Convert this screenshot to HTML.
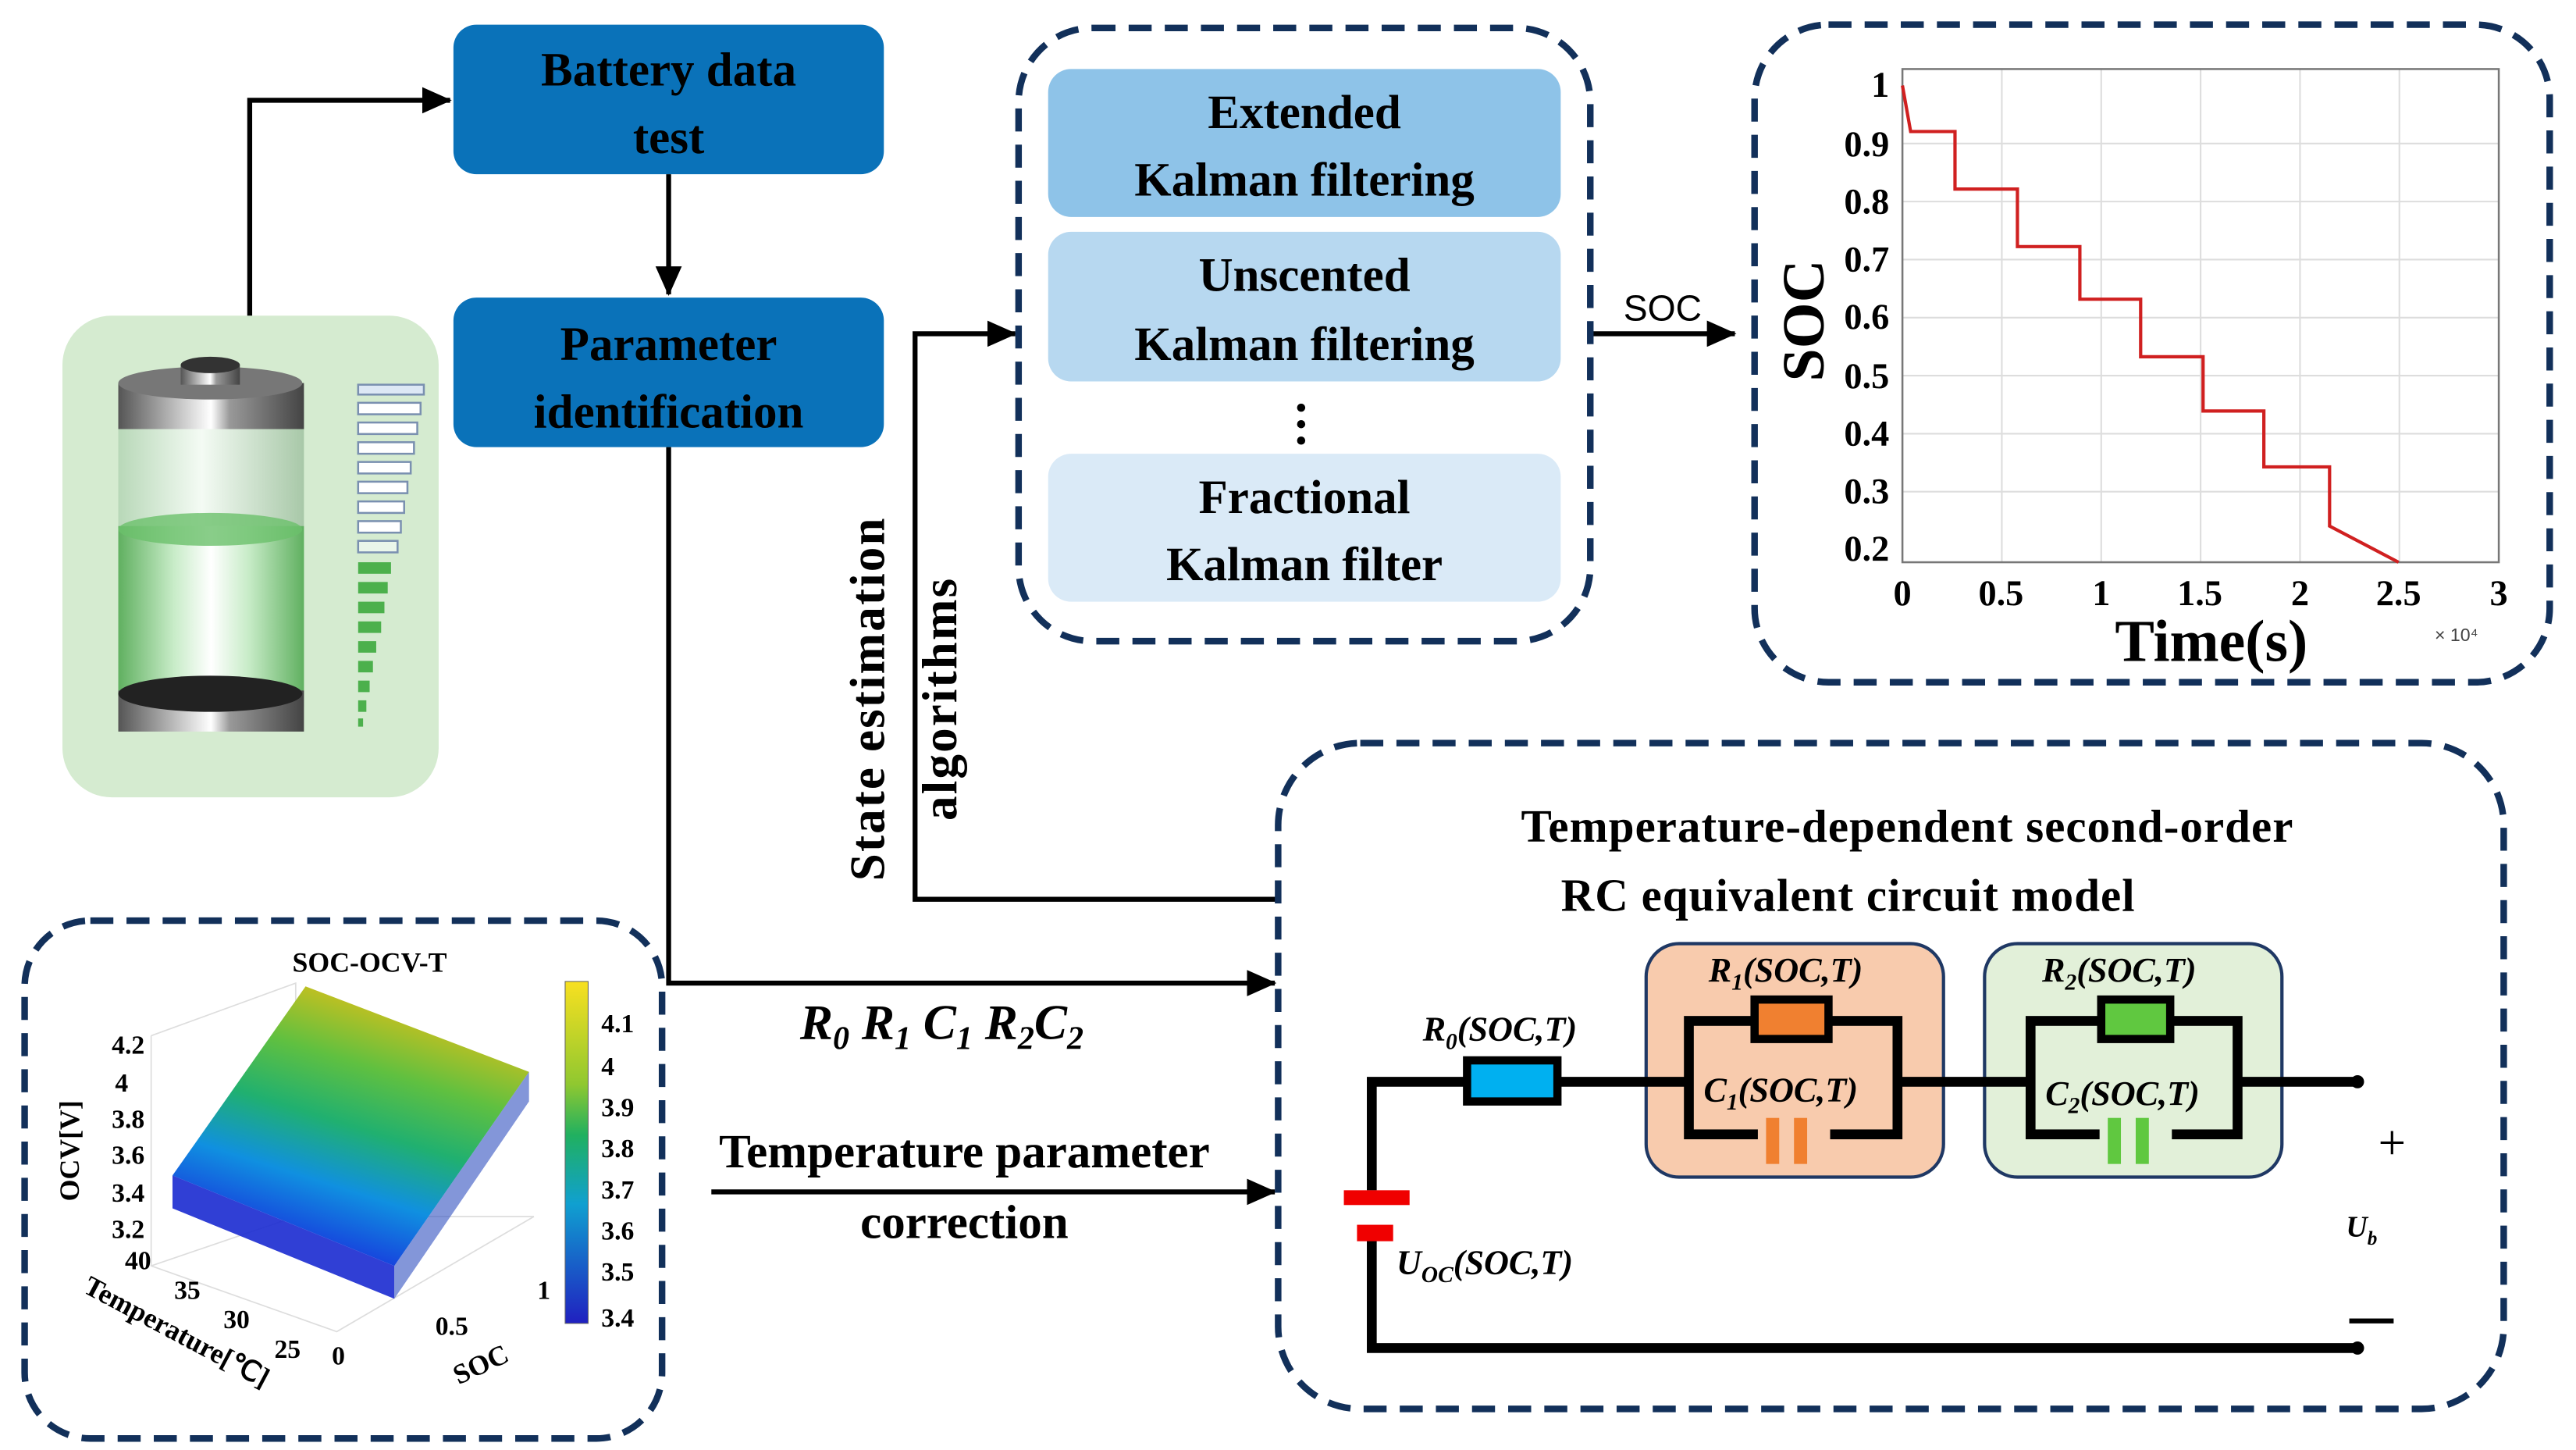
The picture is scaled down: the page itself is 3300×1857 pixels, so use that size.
<!DOCTYPE html>
<html><head><meta charset="utf-8"><style>
html,body{margin:0;padding:0;background:#fff;}
svg{display:block;}
.t{font-family:"Liberation Serif",serif;font-weight:bold;}
.i{font-family:"Liberation Serif",serif;font-weight:bold;font-style:italic;}
</style></head><body>
<svg width="3300" height="1857" viewBox="0 0 1568 882" preserveAspectRatio="none" xmlns="http://www.w3.org/2000/svg">
<defs>
<marker id="ah2" markerWidth="18" markerHeight="16" refX="17" refY="8" orient="auto" markerUnits="userSpaceOnUse" viewBox="0 0 18 16"><path d="M0,0 L18,8 L0,16 z" fill="#000"/></marker>
<linearGradient id="surf" x1="0.3" y1="1" x2="0.7" y2="0"><stop offset="0" stop-color="#1a1adc"/><stop offset="0.3" stop-color="#1090e0"/><stop offset="0.5" stop-color="#20b070"/><stop offset="0.7" stop-color="#60c040"/><stop offset="1" stop-color="#f5c010"/></linearGradient>
<linearGradient id="cb" x1="0" y1="0" x2="0" y2="1"><stop offset="0" stop-color="#f8e020"/><stop offset="0.3" stop-color="#90c830"/><stop offset="0.45" stop-color="#20b060"/><stop offset="0.65" stop-color="#10a0d0"/><stop offset="1" stop-color="#2020c0"/></linearGradient>
<linearGradient id="metal" x1="0" y1="0" x2="1" y2="0"><stop offset="0" stop-color="#555"/><stop offset="0.4" stop-color="#ddd"/><stop offset="0.5" stop-color="#fff"/><stop offset="0.6" stop-color="#999"/><stop offset="1" stop-color="#444"/></linearGradient>
<linearGradient id="glass" x1="0" y1="0" x2="1" y2="0"><stop offset="0" stop-color="#b8d8b8"/><stop offset="0.45" stop-color="#f4fbf4"/><stop offset="1" stop-color="#a8c8a8"/></linearGradient>
<linearGradient id="gfill" x1="0" y1="0" x2="1" y2="0"><stop offset="0" stop-color="#60b060"/><stop offset="0.3" stop-color="#c8ecc8"/><stop offset="0.5" stop-color="#fff"/><stop offset="0.7" stop-color="#c8ecc8"/><stop offset="1" stop-color="#60b060"/></linearGradient>
</defs>

<rect x="38" y="192" width="229" height="293" rx="30" fill="#d5ebd0"/>
<rect x="72" y="240" width="113" height="190" fill="url(#glass)"/>
<rect x="72" y="320" width="113" height="100" fill="url(#gfill)"/>
<ellipse cx="128" cy="322" rx="56" ry="10" fill="#6cc06c" opacity="0.8"/>
<rect x="72" y="233" width="113" height="28" fill="url(#metal)"/>
<ellipse cx="128" cy="233" rx="56" ry="10" fill="#777"/>
<rect x="110" y="222" width="36" height="12" fill="url(#metal)"/>
<ellipse cx="128" cy="222" rx="18" ry="5" fill="#333"/>
<rect x="72" y="420" width="113" height="25" fill="url(#metal)"/>
<ellipse cx="128" cy="422" rx="56" ry="11" fill="#222"/>
<g stroke="#7a90b0" stroke-width="1.2">
<rect x="218" y="234" width="40" height="6" fill="#dde8f5"/>
<rect x="218" y="245" width="38" height="7" fill="#fff"/>
<rect x="218" y="257" width="36" height="7" fill="#fff"/>
<rect x="218" y="269" width="34" height="7" fill="#fff"/>
<rect x="218" y="281" width="32" height="7" fill="#fff"/>
<rect x="218" y="293" width="30" height="7" fill="#fff"/>
<rect x="218" y="305" width="28" height="7" fill="#fff"/>
<rect x="218" y="317" width="26" height="7" fill="#fff"/>
<rect x="218" y="329" width="24" height="7" fill="#eaf6ea"/>
</g>
<g fill="#4cb04c">
<rect x="218" y="342" width="20" height="7"/><rect x="218" y="354" width="18" height="7"/><rect x="218" y="366" width="16" height="7"/><rect x="218" y="378" width="14" height="7"/><rect x="218" y="390" width="11" height="7"/><rect x="218" y="402" width="9" height="7"/><rect x="218" y="414" width="7" height="7"/><rect x="218" y="426" width="5" height="7"/><rect x="218" y="437" width="3" height="5"/>
</g>

<rect x="276" y="15" width="262" height="91" rx="14" fill="#0a72b9"/>
<text class="t" x="407" y="52" font-size="29" text-anchor="middle">Battery data</text>
<text class="t" x="407" y="93" font-size="29" text-anchor="middle">test</text>
<rect x="276" y="181" width="262" height="91" rx="14" fill="#0a72b9"/>
<text class="t" x="407" y="219" font-size="29" text-anchor="middle">Parameter</text>
<text class="t" x="407" y="260" font-size="29" text-anchor="middle">identification</text>

<g stroke="#000" stroke-width="3" fill="none">
<path d="M152,192 V61 H274" marker-end="url(#ah2)"/>
<path d="M407,106 V179" marker-end="url(#ah2)"/>
<path d="M407,272 V598 H776" marker-end="url(#ah2)"/>
<path d="M778,547 H557 V203 H618" marker-end="url(#ah2)"/>
<path d="M433,725 H776" marker-end="url(#ah2)"/>
<path d="M968,203 H1056" marker-end="url(#ah2)"/>
</g>

<text class="i" x="487" y="632" font-size="30">R<tspan font-size="20" dy="6">0</tspan><tspan dy="-6"> R</tspan><tspan font-size="20" dy="6">1</tspan><tspan dy="-6"> C</tspan><tspan font-size="20" dy="6">1</tspan><tspan dy="-6"> R</tspan><tspan font-size="20" dy="6">2</tspan><tspan dy="-6">C</tspan><tspan font-size="20" dy="6">2</tspan></text>
<text class="t" x="587" y="710" font-size="29" text-anchor="middle">Temperature parameter</text>
<text class="t" x="587" y="753" font-size="29" text-anchor="middle">correction</text>
<text class="t" transform="translate(538,425) rotate(-90)" font-size="30" text-anchor="middle" letter-spacing="1">State estimation</text>
<text class="t" transform="translate(582,425) rotate(-90)" font-size="30" text-anchor="middle" letter-spacing="1">algorithms</text>
<text x="1012" y="195" font-family="Liberation Sans,sans-serif" font-size="22" text-anchor="middle">SOC</text>

<rect x="620" y="17" width="348" height="373" rx="45" fill="none" stroke="#12305a" stroke-width="4" stroke-dasharray="14,8"/>
<rect x="638" y="42" width="312" height="90" rx="14" fill="#8ec3e8"/>
<rect x="638" y="141" width="312" height="91" rx="14" fill="#b7d8f0"/>
<rect x="638" y="276" width="312" height="90" rx="14" fill="#daeaf7"/>
<text class="t" x="794" y="78" font-size="29" text-anchor="middle">Extended</text>
<text class="t" x="794" y="119" font-size="29" text-anchor="middle">Kalman filtering</text>
<text class="t" x="794" y="177" font-size="29" text-anchor="middle">Unscented</text>
<text class="t" x="794" y="219" font-size="29" text-anchor="middle">Kalman filtering</text>
<text class="t" x="794" y="312" font-size="29" text-anchor="middle">Fractional</text>
<text class="t" x="794" y="353" font-size="29" text-anchor="middle">Kalman filter</text>
<circle cx="792" cy="248" r="2.5"/><circle cx="792" cy="258" r="2.5"/><circle cx="792" cy="268" r="2.5"/>

<rect x="1068" y="15" width="484" height="400" rx="45" fill="none" stroke="#12305a" stroke-width="4" stroke-dasharray="14,8"/>
<g stroke="#ddd" stroke-width="1">
<path d="M1218.5,42 V342 M1279,42 V342 M1339.5,42 V342 M1400,42 V342 M1460.5,42 V342"/>
<path d="M1158,87.3 H1521 M1158,122.6 H1521 M1158,157.9 H1521 M1158,193.2 H1521 M1158,228.5 H1521 M1158,263.8 H1521 M1158,299.1 H1521"/>
</g>
<rect x="1158" y="42" width="363" height="300" fill="none" stroke="#777" stroke-width="1.2"/>
<path d="M1158,52 L1163,80 H1190 V115 H1228 V150 H1266 V182 H1303 V217 H1341 V250 H1378 V284 H1418 V320 L1460,342" fill="none" stroke="#d02020" stroke-width="2"/>
<g class="t" font-size="22" text-anchor="end">
<text x="1150" y="59">1</text><text x="1150" y="95">0.9</text><text x="1150" y="130">0.8</text><text x="1150" y="165">0.7</text><text x="1150" y="200">0.6</text><text x="1150" y="236">0.5</text><text x="1150" y="271">0.4</text><text x="1150" y="306">0.3</text><text x="1150" y="341">0.2</text>
</g>
<g class="t" font-size="22" text-anchor="middle">
<text x="1158" y="368">0</text><text x="1218" y="368">0.5</text><text x="1279" y="368">1</text><text x="1339" y="368">1.5</text><text x="1400" y="368">2</text><text x="1460" y="368">2.5</text><text x="1521" y="368">3</text>
</g>
<text class="t" transform="translate(1110,195) rotate(-90)" font-size="36" text-anchor="middle">SOC</text>
<text class="t" x="1346" y="402" font-size="36" text-anchor="middle">Time(s)</text>
<text x="1482" y="390" font-family="Liberation Sans,sans-serif" font-size="11" fill="#444">× 10⁴</text>

<rect x="778" y="452" width="746" height="405" rx="50" fill="none" stroke="#12305a" stroke-width="4" stroke-dasharray="14,8"/>
<text class="t" x="1161" y="512" font-size="28" text-anchor="middle" letter-spacing="0.5">Temperature-dependent  second-order</text>
<text class="t" x="1125" y="554" font-size="28" text-anchor="middle" letter-spacing="0.5">RC equivalent  circuit  model</text>
<rect x="1002" y="574" width="181" height="142" rx="20" fill="#f8cbad" stroke="#1f3864" stroke-width="2"/>
<rect x="1208" y="574" width="181" height="142" rx="20" fill="#e2f0d9" stroke="#1f3864" stroke-width="2"/>
<g stroke="#000" stroke-width="6" fill="none">
<path d="M835,724 V658 H1028"/>
<path d="M1155,658 H1236"/>
<path d="M1362,658 H1435"/>
<path d="M835,754 V820 H1435"/>
<rect x="1028" y="621" width="127" height="69"/>
<rect x="1236" y="621" width="126" height="69"/>
</g>
<rect x="893" y="645" width="55" height="25" fill="#00b0f0" stroke="#000" stroke-width="5"/>
<rect x="1068" y="608" width="45" height="24" fill="#f08030" stroke="#000" stroke-width="5"/>
<rect x="1279" y="608" width="42" height="24" fill="#60c840" stroke="#000" stroke-width="5"/>
<rect x="1070" y="678" width="44" height="30" fill="#f8cbad"/>
<rect x="1075" y="680" width="8" height="28" fill="#f08030"/><rect x="1092" y="680" width="8" height="28" fill="#f08030"/>
<rect x="1278" y="678" width="44" height="30" fill="#e2f0d9"/>
<rect x="1283" y="680" width="8" height="28" fill="#60c840"/><rect x="1300" y="680" width="8" height="28" fill="#60c840"/>
<rect x="818" y="724" width="40" height="9" fill="#f00000"/>
<rect x="826" y="745" width="22" height="10" fill="#f00000"/>
<circle cx="1435" cy="658" r="4" fill="#000"/><circle cx="1435" cy="820" r="4" fill="#000"/>
<g class="i" font-size="21">
<text x="866" y="633">R<tspan font-size="14" dy="5">0</tspan><tspan dy="-5">(SOC,T)</tspan></text>
<text x="1040" y="597">R<tspan font-size="14" dy="5">1</tspan><tspan dy="-5">(SOC,T)</tspan></text>
<text x="1037" y="670">C<tspan font-size="14" dy="5">1</tspan><tspan dy="-5">(SOC,T)</tspan></text>
<text x="1243" y="597">R<tspan font-size="14" dy="5">2</tspan><tspan dy="-5">(SOC,T)</tspan></text>
<text x="1245" y="672">C<tspan font-size="14" dy="5">2</tspan><tspan dy="-5">(SOC,T)</tspan></text>
<text x="850" y="775">U<tspan font-size="14" dy="5">OC</tspan><tspan dy="-5">(SOC,T)</tspan></text>
<text x="1428" y="752" font-size="18">U<tspan font-size="12" dy="5">b</tspan></text>
</g>
<text x="1456" y="705" font-family="Liberation Serif,serif" font-size="30" text-anchor="middle">+</text>
<rect x="1430" y="802" width="27" height="3" fill="#000"/>

<rect x="15" y="560" width="388" height="315" rx="40" fill="none" stroke="#12305a" stroke-width="4" stroke-dasharray="14,8"/>
<text class="t" x="225" y="591" font-size="17" text-anchor="middle">SOC-OCV-T</text>
<g stroke="#ddd" stroke-width="0.8" fill="none">
<path d="M92,630 L92,770 L205,810 L325,740"/>
<path d="M92,630 L180,598 L180,740 M180,740 L92,770 M180,740 L325,740"/>
</g>
<polygon points="105,715 186,600 322,652 240,770" fill="url(#surf)"/>
<polygon points="105,715 240,770 240,790 105,735" fill="#1a2ad0" opacity="0.9"/>
<polygon points="240,770 322,652 322,670 240,790" fill="#3050c0" opacity="0.6"/>
<rect x="344" y="597" width="14" height="208" fill="url(#cb)" stroke="#666" stroke-width="0.5"/>
<g class="t" font-size="16">
<text x="366" y="628">4.1</text><text x="366" y="654">4</text><text x="366" y="679">3.9</text><text x="366" y="704">3.8</text><text x="366" y="729">3.7</text><text x="366" y="754">3.6</text><text x="366" y="779">3.5</text><text x="366" y="807">3.4</text>
</g>
<g class="t" font-size="16" text-anchor="end">
<text x="88" y="641">4.2</text><text x="78" y="664">4</text><text x="88" y="686">3.8</text><text x="88" y="708">3.6</text><text x="88" y="731">3.4</text><text x="88" y="753">3.2</text>
<text x="92" y="772">40</text><text x="122" y="790">35</text><text x="152" y="808">30</text><text x="183" y="826">25</text><text x="210" y="830">0</text><text x="285" y="812">0.5</text><text x="335" y="790">1</text>
</g>
<text class="t" transform="translate(48,700) rotate(-90)" font-size="17" text-anchor="middle">OCV[V]</text>
<text class="t" transform="translate(105,815) rotate(28)" font-size="17" text-anchor="middle">Temperature[℃]</text>
<text class="t" transform="translate(295,835) rotate(-25)" font-size="17" text-anchor="middle">SOC</text>
</svg>
</body></html>
